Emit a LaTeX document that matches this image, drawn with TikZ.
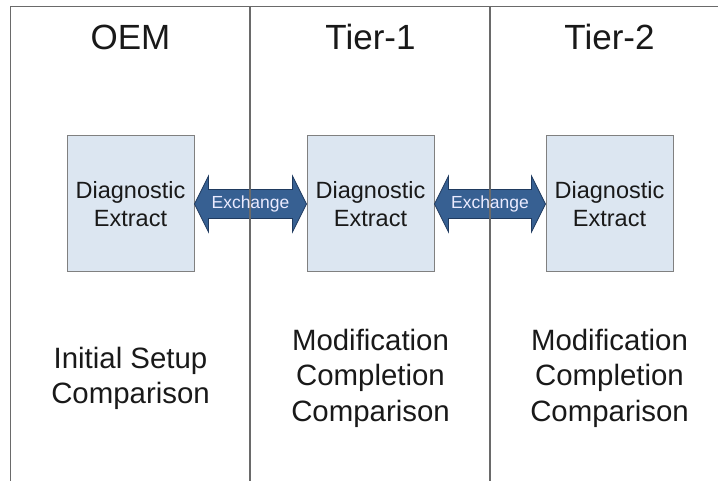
\documentclass[tikz,border=0pt]{standalone}
\usepackage{fontspec}
\setmainfont{Liberation Sans}
\usepackage{xcolor}
\usepackage{tikz}
\usetikzlibrary{
    calc,
    positioning
}
\definecolor{boxfill}{HTML}{DCE6F1}
\definecolor{boxline}{HTML}{808080}
\definecolor{arrowfill}{HTML}{376092}
\definecolor{arrowline}{HTML}{1F3A5F}
\definecolor{frameline}{HTML}{6A6A6A}

\begin{document}
\begin{tikzpicture}[x=1pt,y=1pt,
    diagbox/.style={draw=boxline,fill=boxfill,line width=1pt,minimum width=127pt,minimum height=136pt,
        inner sep=0pt,align=center,text=black!90,font=\fontsize{23.5}{28}\selectfont},
    tiertitle/.style={inner sep=0pt,text=black!90,font=\fontsize{35}{40}\selectfont},
    stepnote/.style={inner sep=0pt,align=center,text=black!90,font=\fontsize{29.4}{35.5}\selectfont},
    xchg/.style={inner sep=0pt,text=white!92!blue,font=\fontsize{17.5}{20}\selectfont},
    xarrow/.style={fill=arrowfill,draw=arrowline,line width=0.8pt,line join=miter}
]
\useasboundingbox (0,0) rectangle (718,481);

% Column titles
\node[tiertitle] (oemtitle) at (130.5,444) {OEM};
\node[tiertitle] (t1title) at (370.5,444) {Tier-1};
\node[tiertitle] (t2title) at (609.5,444) {Tier-2};

% Diagnostic extract boxes
\node[diagbox] (oem) at (130.5,277) {Diagnostic\\Extract};
\node[diagbox,right=112pt of oem] (tier1) {Diagnostic\\Extract};
\node[diagbox,right=111pt of tier1] (tier2) {Diagnostic\\Extract};

% Exchange arrows
\foreach \a/\b in {oem/tier1,tier1/tier2} {
    \filldraw[xarrow] (\a.east) -- ([shift={(14,28)}]\a.east) -- ([shift={(14,14.5)}]\a.east)
        -- ([shift={(-14,14.5)}]\b.west) -- ([shift={(-14,28)}]\b.west) -- (\b.west)
        -- ([shift={(-14,-28)}]\b.west) -- ([shift={(-14,-14.5)}]\b.west)
        -- ([shift={(14,-14.5)}]\a.east) -- ([shift={(14,-28)}]\a.east) -- cycle;
}

% Frame and column separators
\coordinate (topleft) at (10.5,474.5);
\coordinate (topright) at (718,474.5);
\draw[frameline,line width=1.3pt] (10.5,0) -- (topleft) -- (topright);
\foreach \x in {250,490} {
    \draw[frameline,line width=1.3pt] (\x,0) -- (\x,474.5);
}

\node[xchg] (xa) at ($(oem.east)!0.5!(tier1.west)$) {Exchange};
\node[xchg] (xb) at ($(tier1.east)!0.5!(tier2.west)$) {Exchange};

% Comparison notes
\node[stepnote] (oemnote) at (130.5,102.5) {Initial Setup\\Comparison};
\node[stepnote] (t1note) at (370.5,103) {Modification\\Completion\\Comparison};
\node[stepnote] (t2note) at (609.5,103) {Modification\\Completion\\Comparison};
\end{tikzpicture}
\end{document}
